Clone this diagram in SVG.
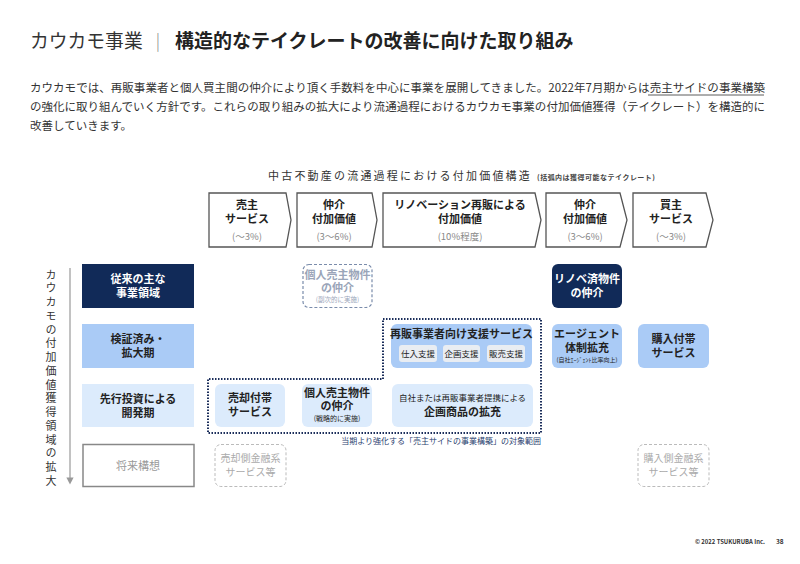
<svg xmlns="http://www.w3.org/2000/svg" width="800" height="564" viewBox="0 0 800 564">
<defs>
<style>
text{font-family:"Noto Sans CJK JP","Noto Sans",sans-serif;}
.b{font-weight:bold;}
.c{text-anchor:middle;}
.body{font-size:11.5px;fill:#333;}
.chev{fill:#fff;stroke:#555;stroke-width:1.3;}
.lbl{font-size:11px;font-weight:bold;fill:#222;text-anchor:middle;}
.pct{font-size:9.5px;fill:#888;text-anchor:middle;}
.navy{fill:#112a58;}
.lb{fill:#aacbf6;}
.vlb{fill:#dcebfc;}
.wt{fill:#fff;}
.dk{fill:#222;}
</style>
<marker id="ah" viewBox="0 0 10 10" refX="5" refY="5" markerWidth="6" markerHeight="6" orient="auto">
<path d="M0,0 L10,5 L0,10 Z" fill="#999"/>
</marker>
</defs>
<rect width="800" height="564" fill="#fff"/>

<g id="title">
<text x="30" y="48" font-size="18.8" fill="#333">カウカモ事業</text>
<text x="158" y="47" font-size="17" fill="#888" text-anchor="middle" font-weight="300">|</text>
<text x="175" y="48" font-size="19" class="b" fill="#222">構造的なテイクレートの改善に向けた取り組み</text>
</g>

<g id="body">
<text x="30" y="92" class="body" textLength="735" lengthAdjust="spacing">カウカモでは、再販事業者と個人買主間の仲介により頂く手数料を中心に事業を展開してきました。2022年7月期からは売主サイドの事業構築</text>
<line x1="648" y1="95" x2="764" y2="95" stroke="#333" stroke-width="0.8"/>
<text x="30" y="111" class="body" textLength="735" lengthAdjust="spacing">の強化に取り組んでいく方針です。これらの取り組みの拡大により流通過程におけるカウカモ事業の付加価値獲得（テイクレート）を構造的に</text>
<text x="30" y="130" class="body">改善していきます。</text>
</g>

<g id="chart-title">
<text x="268" y="180" font-size="11" fill="#333" letter-spacing="2.2">中古不動産の流通過程における付加価値構造</text>
<text x="537" y="180" font-size="7" class="b" fill="#444" textLength="118" lengthAdjust="spacing">(括弧内は獲得可能なテイクレート)</text>
</g>

<g id="stage1">
<path class="chev" d="M209,193 L286,193 L291,220 L286,247 L209,247 Z"/>
<text class="lbl" x="247" y="209">売主</text>
<text class="lbl" x="247" y="223">サービス</text>
<text class="pct" x="247" y="240">(～3%)</text>
</g>
<g id="stage2">
<path class="chev" d="M297,193 L372,193 L377,220 L372,247 L297,247 Z"/>
<text class="lbl" x="334" y="209">仲介</text>
<text class="lbl" x="334" y="223">付加価値</text>
<text class="pct" x="334" y="240">(3～6%)</text>
</g>
<g id="stage3">
<path class="chev" d="M383,193 L535,193 L541,220 L535,247 L383,247 Z"/>
<text class="lbl" x="460" y="209">リノベーション再販による</text>
<text class="lbl" x="460" y="223">付加価値</text>
<text class="pct" x="460" y="240">(10%程度)</text>
</g>
<g id="stage4">
<path class="chev" d="M546,193 L620,193 L627,220 L620,247 L546,247 Z"/>
<text class="lbl" x="585" y="209">仲介</text>
<text class="lbl" x="585" y="223">付加価値</text>
<text class="pct" x="585" y="240">(3～6%)</text>
</g>
<g id="stage5">
<path class="chev" d="M633,193 L706,193 L713,220 L706,247 L633,247 Z"/>
<text class="lbl" x="671" y="209">買主</text>
<text class="lbl" x="671" y="223">サービス</text>
<text class="pct" x="671" y="240">(～3%)</text>
</g>

<g id="axis">
<line x1="70" y1="268" x2="70" y2="481" stroke="#999" stroke-width="1.2" marker-end="url(#ah)"/>
<text x="51" y="269" font-size="11" fill="#333" style="writing-mode:vertical-rl" writing-mode="tb" letter-spacing="2.75">カウカモの付加価値獲得領域の拡大</text>
</g>

<g id="row1-label">
<rect class="navy" x="82" y="264" width="112" height="44"/>
<text class="lbl wt" x="138" y="283">従来の主な</text>
<text class="lbl wt" x="138" y="297">事業領域</text>
</g>
<g id="row2-label">
<rect class="lb" x="82" y="324" width="112" height="44"/>
<text class="lbl" x="138" y="343">検証済み・</text>
<text class="lbl" x="138" y="357">拡大期</text>
</g>
<g id="row3-label">
<rect class="vlb" x="82" y="384" width="112" height="43"/>
<text class="lbl" x="138" y="403">先行投資による</text>
<text class="lbl" x="138" y="417">開発期</text>
</g>
<g id="row4-label">
<rect x="83" y="444.5" width="111" height="42" fill="#fff" stroke="#888" stroke-width="1.5"/>
<text class="c" x="138" y="470" font-size="11" fill="#999">将来構想</text>
</g>

<g id="connectors">
<path d="M383,319 L541,319 L541,433 L208,433 L208,379 L383,379 Z" fill="none" stroke="#1a2d5a" stroke-width="2" stroke-dasharray="1.5,1.5"/>
<text x="541" y="444" font-size="8" fill="#2b4270" text-anchor="end">当期より強化する「売主サイドの事業構築」の対象範囲</text>
</g>

<g id="kojin-fukuji">
<rect x="303" y="264.5" width="69" height="43" rx="6" fill="#fff" stroke="#7a8cab" stroke-width="1.2" stroke-dasharray="3,2"/>
<text class="lbl" x="337.5" y="279" style="fill:#9aa5b9">個人売主物件</text>
<text class="lbl" x="337.5" y="292" style="fill:#9aa5b9">の仲介</text>
<text class="c" x="337.5" y="302" font-size="6.5" fill="#9aa5b9">(副次的に実施)</text>
</g>

<g id="renove">
<rect class="navy" x="552" y="264" width="70" height="44" rx="6"/>
<text class="lbl wt" x="587" y="283">リノベ済物件</text>
<text class="lbl wt" x="587" y="297">の仲介</text>
</g>

<g id="saihan-shien">
<rect class="lb" x="391" y="324" width="141" height="44" rx="6"/>
<text class="lbl" x="461.5" y="338">再販事業者向け支援サービス</text>
<rect x="399" y="345" width="38" height="17" rx="3" fill="#e9edf2"/>
<text class="c dk" x="418" y="357" font-size="8.5">仕入支援</text>
<rect x="443" y="345" width="37" height="17" rx="3" fill="#e9edf2"/>
<text class="c dk" x="461.5" y="357" font-size="8.5">企画支援</text>
<rect x="487" y="345" width="38" height="17" rx="3" fill="#e9edf2"/>
<text class="c dk" x="506" y="357" font-size="8.5">販売支援</text>
</g>

<g id="agent">
<rect class="lb" x="552" y="324" width="70" height="44" rx="6"/>
<text class="lbl" x="587" y="338">エージェント</text>
<text class="lbl" x="587" y="352">体制拡充</text>
<text class="c dk" x="587" y="362" font-size="6">(自社ｴｰｼﾞｪﾝﾄ比率向上)</text>
</g>

<g id="kounyu-futai">
<rect class="lb" x="638" y="324" width="71" height="44" rx="6"/>
<text class="lbl" x="673.5" y="343">購入付帯</text>
<text class="lbl" x="673.5" y="357">サービス</text>
</g>

<g id="baikyaku-futai">
<rect class="vlb" x="215" y="384" width="70" height="43" rx="6"/>
<text class="lbl" x="250" y="402">売却付帯</text>
<text class="lbl" x="250" y="416">サービス</text>
</g>

<g id="kojin-senryaku">
<rect class="vlb" x="302" y="384" width="70" height="43" rx="6"/>
<text class="lbl" x="337" y="397">個人売主物件</text>
<text class="lbl" x="337" y="410">の仲介</text>
<text class="c dk" x="337" y="421" font-size="7">(戦略的に実施)</text>
</g>

<g id="kikaku">
<rect class="vlb" x="392" y="384" width="141" height="43" rx="6"/>
<text class="c dk" x="462.5" y="401" font-size="8.5">自社または再販事業者提携による</text>
<text class="lbl" x="462.5" y="416" font-size="12">企画商品の拡充</text>
</g>

<g id="baikyaku-kinyu">
<rect x="215" y="444.5" width="71" height="42" rx="6" fill="#fff" stroke="#bbb" stroke-width="1" stroke-dasharray="3,2"/>
<text class="c" x="250.5" y="462" font-size="10" fill="#aaa">売却側金融系</text>
<text class="c" x="250.5" y="476" font-size="10" fill="#aaa">サービス等</text>
</g>

<g id="kounyu-kinyu">
<rect x="638" y="444.5" width="71" height="42" rx="6" fill="#fff" stroke="#bbb" stroke-width="1" stroke-dasharray="3,2"/>
<text class="c" x="673.5" y="462" font-size="10" fill="#aaa">購入側金融系</text>
<text class="c" x="673.5" y="476" font-size="10" fill="#aaa">サービス等</text>
</g>

<g id="footer">
<text x="695" y="544" font-family="Liberation Sans,sans-serif" font-size="6.5" font-weight="bold" fill="#333" textLength="70" lengthAdjust="spacingAndGlyphs">© 2022 TSUKURUBA Inc.</text>
<text x="776" y="544" font-family="Liberation Sans,sans-serif" font-size="6.5" font-weight="bold" fill="#333">38</text>
</g>
</svg>
